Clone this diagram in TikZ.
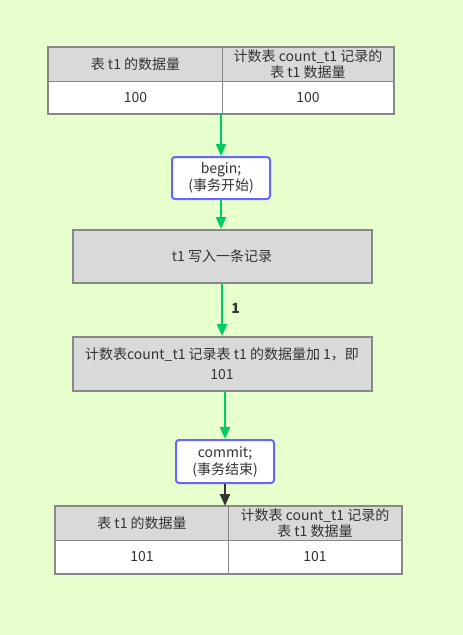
\documentclass[tikz,border=0pt]{standalone}
\usepackage{fontspec}
\setmainfont{Noto Sans CJK SC}
\usetikzlibrary{arrows.meta}
\definecolor{bg}{RGB}{230,255,204}
\definecolor{txt}{RGB}{51,51,51}
\definecolor{cellfill}{RGB}{217,217,217}
\definecolor{cellline}{RGB}{136,136,136}
\definecolor{garr}{RGB}{0,204,102}
\definecolor{bborder}{RGB}{102,102,255}
\tikzset{
  cell/.style={draw=cellline, line width=1pt, anchor=north west, inner sep=0pt, align=center, text=txt, font=\fontsize{14}{16}\selectfont},
  hcell/.style={cell, fill=cellfill},
  dcell/.style={cell, fill=white},
  graybox/.style={draw=cellline, line width=2pt, fill=cellfill, inner sep=0pt, align=center, text=txt, font=\fontsize{14}{20}\selectfont},
  bluebox/.style={draw=bborder, line width=2pt, fill=white, rounded corners=3pt, inner sep=0pt, align=center, text=txt, font=\fontsize{14}{17}\selectfont},
  garrow/.style={draw=garr, line width=2pt, -{Triangle[length=12pt,width=10pt]}},
  karrow/.style={draw=txt, line width=2pt, -{Triangle[length=12pt,width=10pt]}},
}
\begin{document}
\begin{tikzpicture}[x=1pt,y=-1pt]
\useasboundingbox[fill=bg] (0,0) rectangle (463,635);
% top table
\node[hcell, minimum width=174pt, minimum height=34pt] (h1) at (48,47) {表 t1 的数据量};
\node[hcell, minimum width=171pt, minimum height=34pt] (h2) at (222,47) {计数表 count\_t1 记录的\\表 t1 数据量};
\node[dcell, minimum width=174pt, minimum height=32pt] (d1) at (48,81) {100};
\node[dcell, minimum width=171pt, minimum height=32pt] (d2) at (222,81) {100};
\draw[cellline, line width=2pt] (h1.north west) rectangle (d2.south east);
% begin
\node[bluebox, minimum width=98pt, minimum height=42pt] (begin) at (221,178) {begin;\\(事务开始)};
% box1
\node[graybox, minimum width=299pt, minimum height=53pt] (w1) at (222,256.5) {t1 写入一条记录};
% box2
\node[graybox, minimum width=299pt, minimum height=54pt] (w2) at (222,364) {计数表count\_t1 记录表 t1 的数据量加 1，即\\101};
% commit
\node[bluebox, minimum width=98pt, minimum height=43pt] (commit) at (225,461.5) {commit;\\(事务结束)};
% bottom table
\node[hcell, minimum width=173pt, minimum height=34pt] (b1) at (55,506) {表 t1 的数据量};
\node[hcell, minimum width=173pt, minimum height=34pt] (b2) at (228,506) {计数表 count\_t1 记录的\\表 t1 数据量};
\node[dcell, minimum width=173pt, minimum height=33pt] (e1) at (55,540) {101};
\node[dcell, minimum width=173pt, minimum height=33pt] (e2) at (228,540) {101};
\draw[cellline, line width=2pt] (b1.north west) rectangle (e2.south east);
% arrows
\draw[garrow] (begin.north |- d1.south) -- (begin.north);
\draw[garrow] (begin.south) -- (begin.south |- w1.north);
\draw[garrow] (w1.south) -- node[right, xshift=5pt, yshift=2pt, text=txt, font=\fontsize{14}{16}\bfseries\selectfont]{1} (w2.north);
\draw[garrow] (commit.north |- w2.south) -- (commit.north);
\draw[karrow] (commit.south) -- (commit.south |- b1.north);
\end{tikzpicture}
\end{document}
